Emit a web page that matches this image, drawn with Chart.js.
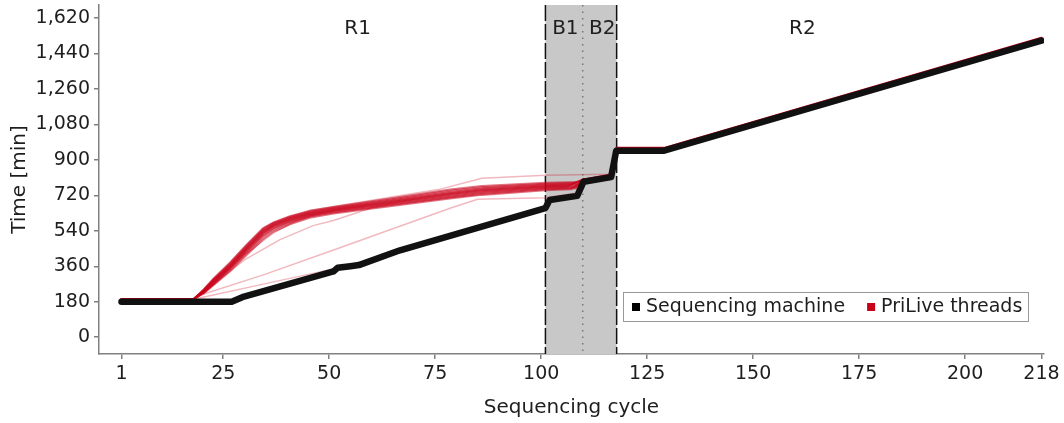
<!DOCTYPE html>
<html>
<head>
<meta charset="utf-8">
<script src="https://cdn.jsdelivr.net/npm/chart.js@4.4.1/dist/chart.umd.min.js"></script>
<style>
  html, body { margin: 0; padding: 0; background: #fff; }
  #wrap { width: 1064px; height: 423px; }
</style>
</head>
<body>
<div id="wrap"><canvas id="timeChart" width="1064" height="423"></canvas></div>
<script>
const xTicks = [1, 25, 50, 75, 100, 125, 150, 175, 200, 218];
const yTicks = [0, 180, 360, 540, 720, 900, 1080, 1260, 1440, 1620];

// run phases: read 1, barcode 1, barcode 2, read 2
const phaseBounds = [101, 109.8, 117.8];
const phaseLabels = ['R1', 'B1', 'B2', 'R2'];
const phaseLabelAt = [56.7, 105.7, 114.4, 161.6];

// [cycle, minutes]
const machine = [[1,180],[27,180],[29.5,203],[51,334],[52,352],[55,360],[57,366],[66.7,441],
  [101,655],[102,696],[108.5,717],[110,789],[116.5,812],[117.7,946],[129,946],[218,1504]];

// where all threads run together right behind the machine
const threadsTail = [[110,801],[116.5,826],[117.7,961],[129,961],[218,1519]];

// main bundle of threads
const threads = [
  [[1,193],[18,193],[20.4,242],[22.7,297],[26.6,378],[30.5,468],[34.4,552],[36.8,581],[40.7,613],[45.4,641],[51,661],[78.5,749],[86,767],[101,783],[109,787],[110,801]],
  [[1,193],[18,193],[20.4,240],[22.7,292],[26.6,372],[30.5,462],[34.4,547],[36.8,577],[40.7,609],[45.4,637],[51,657],[78.5,743],[86,761],[101,779],[108,783],[110,801]],
  [[1,193],[18,193],[20.4,238],[22.7,289],[26.6,367],[30.5,457],[34.4,542],[36.8,573],[40.7,605],[45.4,633],[51,653],[78.5,737],[86,755],[101,775],[109,779],[110,801]],
  [[1,193],[18,193],[20.4,236],[22.7,286],[26.6,364],[30.5,453],[34.4,538],[36.8,570],[40.7,602],[45.4,630],[51,650],[78.5,732],[86,751],[101,771],[107,775],[110,801]],
  [[1,193],[18,193],[20.4,234],[22.7,283],[26.6,360],[30.5,449],[34.4,533],[36.8,566],[40.7,598],[45.4,626],[51,646],[78.5,727],[86,745],[101,766],[109,771],[110,801]],
  [[1,193],[18,193],[20.4,232],[22.7,280],[26.6,357],[30.5,445],[34.4,529],[36.8,562],[40.7,595],[45.4,623],[51,643],[78.5,722],[86,741],[101,762],[106,765],[110,801]],
  [[1,193],[18,193],[20.4,230],[22.7,277],[26.6,353],[30.5,440],[34.4,524],[36.8,558],[40.7,591],[45.4,620],[51,640],[78.5,718],[86,736],[101,758],[109,763],[110,801]],
  [[1,193],[18,193],[20.4,228],[22.7,273],[26.6,348],[30.5,434],[34.4,517],[36.8,552],[40.7,586],[45.4,616],[51,636],[78.5,713],[86,731],[101,754],[108,759],[110,801]],
  [[1,193],[18,193],[20.4,226],[22.7,269],[26.6,343],[30.5,427],[34.4,509],[36.8,545],[40.7,581],[45.4,612],[51,632],[78.5,709],[86,727],[101,750],[109,755],[110,801]],
  [[1,193],[18,193],[20.4,223],[22.7,264],[26.6,335],[30.5,417],[34.4,497],[36.8,535],[40.7,573],[45.4,606],[51,628],[78.5,704],[86,722],[101,746],[107,750],[110,801]]
];

// threads that drift away from the bundle
const stragglers = [
  [[1,193],[18,193],[20.4,243],[22.7,298],[26.6,380],[30.5,470],[34.4,555],[36.8,583],[40.7,615],[45.4,643],[51,663],[76,750],[86,806],[101,822],[116,826],[117.7,961]],
  [[1,193],[18,193],[21,232],[25,318],[30,418],[36.8,528],[42,588],[47,624],[51,645],[78.5,730],[86,748],[101,768],[109,774],[110,801]],
  [[1,193],[18,193],[22,257],[30,392],[38.4,495],[46.2,566],[51,592],[60.8,662],[66.7,688],[78.5,726],[86,744],[101,764],[109,770],[110,801]],
  [[1,193],[18,193],[19.5,213],[35,320],[50.2,436],[78.5,654],[85,700],[101,707],[102,711],[108.5,732],[110,801]],
  [[1,193],[18,193],[21,207],[35,272],[50.2,343],[52,356],[55,364],[57,370],[66.7,445],[101,660],[102,700],[108.5,721],[110,801]]
];

const FONT = 'DejaVu Sans';
const TEXT = '#1e1e1e';
const AXIS = '#808080';
const RED = '#c8001a';
const toXY = pts => pts.map(([x, y]) => ({ x, y }));

Chart.defaults.font.family = FONT;
Chart.defaults.font.size = 19;
Chart.defaults.color = TEXT;

const lineStyle = { pointRadius: 0, tension: 0, fill: false, borderJoinStyle: 'round', borderCapStyle: 'round' };

const datasets = [
  { label: 'Sequencing machine', data: toXY(machine), borderColor: '#111', borderWidth: 6.5, ...lineStyle },
  { label: 'PriLive threads', data: toXY(threadsTail), borderColor: RED, borderWidth: 1.8, ...lineStyle },
  ...threads.map(t => ({ label: 'PriLive threads', data: toXY(t), borderColor: 'rgba(200,0,26,0.55)', borderWidth: 2, ...lineStyle })),
  ...stragglers.map(t => ({ label: 'PriLive threads', data: toXY(t), borderColor: 'rgba(200,0,26,0.28)', borderWidth: 1.5, ...lineStyle }))
];

// grey barcode block, its borders and the phase names
const phasePlugin = {
  id: 'phases',
  beforeDatasetsDraw(chart) {
    const { ctx, chartArea: a, scales: { x } } = chart;
    const x0 = x.getPixelForValue(phaseBounds[0]);
    const x1 = x.getPixelForValue(phaseBounds[1]);
    const x2 = x.getPixelForValue(phaseBounds[2]);
    ctx.save();
    ctx.fillStyle = '#c8c8c8';
    ctx.fillRect(x0, a.top, x2 - x0, a.bottom - a.top);

    ctx.strokeStyle = '#111';
    ctx.lineWidth = 1.5;
    ctx.setLineDash([16, 3]);
    [x0, x2].forEach(px => {
      ctx.beginPath();
      ctx.moveTo(px, a.top);
      ctx.lineTo(px, a.bottom);
      ctx.stroke();
    });

    ctx.strokeStyle = '#777';
    ctx.lineWidth = 1.5;
    ctx.setLineDash([1.5, 5]);
    ctx.beginPath();
    ctx.moveTo(x1, a.top);
    ctx.lineTo(x1, a.bottom);
    ctx.stroke();
    ctx.restore();
  },
  afterDatasetsDraw(chart) {
    const { ctx, chartArea: a, scales: { x } } = chart;
    ctx.save();
    ctx.fillStyle = TEXT;
    ctx.font = '20px "' + FONT + '"';
    ctx.textAlign = 'center';
    ctx.textBaseline = 'middle';
    phaseLabels.forEach((t, i) => ctx.fillText(t, x.getPixelForValue(phaseLabelAt[i]), a.top + 24));
    ctx.restore();
  }
};

// boxed legend in the lower right of the plot
const legendPlugin = {
  id: 'boxLegend',
  afterDraw(chart) {
    const { ctx, chartArea: a } = chart;
    const entries = [
      { text: 'Sequencing machine', color: '#000' },
      { text: 'PriLive threads', color: RED }
    ];
    const right = a.right - 15, bottom = a.bottom - 32;
    const w = 406, h = 30;
    const left = right - w, top = bottom - h;
    ctx.save();
    ctx.fillStyle = '#fff';
    ctx.fillRect(left, top, w, h);
    ctx.strokeStyle = '#999';
    ctx.lineWidth = 1;
    ctx.strokeRect(left + 0.5, top + 0.5, w - 1, h - 1);
    ctx.font = '19px "' + FONT + '"';
    ctx.textBaseline = 'middle';
    const cy = top + h / 2;
    let px = left + 9;
    entries.forEach(e => {
      ctx.fillStyle = e.color;
      ctx.fillRect(px, cy - 4, 8, 8);
      ctx.fillStyle = TEXT;
      ctx.fillText(e.text, px + 14, cy);
      px += 14 + ctx.measureText(e.text).width + 22;
    });
    ctx.restore();
  }
};

new Chart(document.getElementById('timeChart'), {
  type: 'line',
  data: { datasets },
  options: {
    responsive: false,
    animation: false,
    events: [],
    layout: { padding: { top: 5, right: 20, left: 0, bottom: 0 } },
    plugins: { legend: { display: false }, tooltip: { enabled: false } },
    scales: {
      x: {
        type: 'linear',
        min: -4.3,
        max: 218.6,
        afterBuildTicks: s => { s.ticks = xTicks.map(v => ({ value: v })); },
        afterFit: s => { s.height = 69; s.paddingLeft = 0; s.paddingRight = 0; },
        grid: { drawOnChartArea: false, color: AXIS, lineWidth: 1.5, tickLength: 5 },
        border: { color: AXIS, width: 1.5 },
        ticks: { color: TEXT, padding: 4, maxRotation: 0, autoSkip: false, callback: v => String(v) },
        title: { display: true, text: 'Sequencing cycle', color: TEXT, font: { size: 20 }, padding: { top: 0, bottom: 3 } }
      },
      y: {
        type: 'linear',
        min: -85,
        max: 1685,
        afterBuildTicks: s => { s.ticks = yTicks.map(v => ({ value: v })); },
        afterFit: s => { s.width = 99; s.paddingTop = 0; s.paddingBottom = 0; },
        grid: { drawOnChartArea: false, color: AXIS, lineWidth: 1.5, tickLength: 5 },
        border: { color: AXIS, width: 1.5 },
        ticks: { color: TEXT, padding: 4, autoSkip: false, callback: v => v.toLocaleString('en-US') },
        title: { display: true, text: 'Time [min]', color: TEXT, font: { size: 20 }, padding: { top: 8, bottom: 0 } }
      }
    }
  },
  plugins: [phasePlugin, legendPlugin]
});
</script>
</body>
</html>
